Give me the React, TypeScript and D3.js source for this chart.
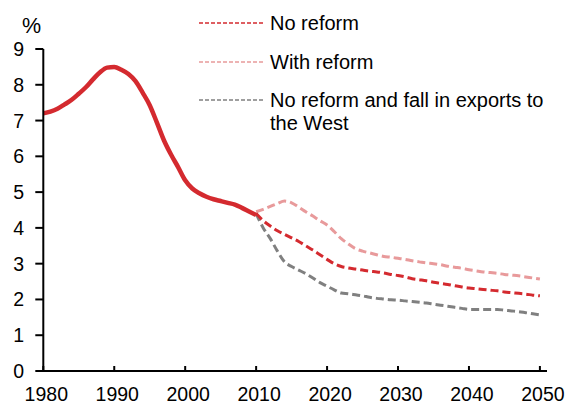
import React from "react";
import * as d3 from "d3";

const histYears = d3.range(1980, 2011);
const histValues = [
  7.2, 7.25, 7.33, 7.45, 7.58, 7.75, 7.93, 8.15, 8.35, 8.48,
  8.5, 8.42, 8.3, 8.1, 7.78, 7.43, 6.95, 6.45, 6.05, 5.7,
  5.33, 5.1, 4.97, 4.87, 4.8, 4.75, 4.7, 4.65, 4.56, 4.46, 4.36,
];

const fcYears = d3.range(2010, 2051);
const noReform = [
  4.4, 4.2, 4.05, 3.92, 3.82, 3.72, 3.62, 3.5, 3.38, 3.25,
  3.12, 3.0, 2.92, 2.88, 2.85, 2.82, 2.79, 2.77, 2.74, 2.7,
  2.67, 2.63, 2.58, 2.55, 2.52, 2.48, 2.45, 2.42, 2.38, 2.35,
  2.32, 2.3, 2.28, 2.26, 2.24, 2.21, 2.19, 2.17, 2.15, 2.12, 2.1,
];
const withReform = [
  4.45, 4.52, 4.6, 4.68, 4.75, 4.7, 4.58, 4.45, 4.33, 4.2,
  4.08, 3.9, 3.7, 3.55, 3.42, 3.35, 3.3, 3.25, 3.2, 3.18,
  3.15, 3.12, 3.08, 3.05, 3.02, 3.0, 2.97, 2.93, 2.9, 2.87,
  2.83, 2.8, 2.77, 2.75, 2.73, 2.7, 2.68, 2.66, 2.63, 2.6, 2.57,
];
const exportsFall = [
  4.4, 4.0, 3.7, 3.35, 3.05, 2.92, 2.82, 2.72, 2.6, 2.47,
  2.37, 2.27, 2.18, 2.16, 2.13, 2.1, 2.06, 2.03, 2.01, 1.99,
  1.98, 1.96, 1.94, 1.92, 1.9, 1.87, 1.84, 1.81, 1.78, 1.75,
  1.72, 1.72, 1.72, 1.72, 1.72, 1.7, 1.68, 1.66, 1.63, 1.6, 1.57,
];

const xTicks = [1980, 1990, 2000, 2010, 2020, 2030, 2040, 2050];
const yTicks = [0, 1, 2, 3, 4, 5, 6, 7, 8, 9];

const legendItems = [
  { lines: ["No reform"], color: "#d42a2f" },
  { lines: ["With reform"], color: "#e89a9b" },
  { lines: ["No reform and fall in exports to", "the West"], color: "#808080" },
];

const W = 566;
const H = 405;
const font = "'Liberation Sans', Arial, sans-serif";

export default function App() {
  const x = d3.scaleLinear().domain([1980, 2051]).range([43.3, 547]);
  const y = d3.scaleLinear().domain([0, 9]).range([371, 49]);

  const line = d3
    .line<[number, number]>()
    .x((d) => x(d[0]))
    .y((d) => y(d[1]))
    .curve(d3.curveMonotoneX);

  const hist = line(histYears.map((yr, i) => [yr, histValues[i]]))!;
  const fc = (vals: number[]) => line(fcYears.map((yr, i) => [yr, vals[i]]))!;

  const legendY = [23, 62, 100];

  return (
    <svg
      width={W}
      height={H}
      style={{ position: "absolute", left: 0, top: 0, background: "#fff" }}
      fontFamily={font}
    >
      <rect width={W} height={H} fill="#fff" />
      {/* series */}
      <path d={fc(withReform)} fill="none" stroke="#e89a9b" strokeWidth={3} strokeDasharray="8,4" />
      <path d={fc(exportsFall)} fill="none" stroke="#808080" strokeWidth={3} strokeDasharray="8,4" />
      <path d={fc(noReform)} fill="none" stroke="#d42a2f" strokeWidth={3} strokeDasharray="8,4" />
      <path d={hist} fill="none" stroke="#d42a2f" strokeWidth={4.5} strokeLinejoin="round" />

      {/* y axis */}
      <line x1={x(1980)} x2={x(1980)} y1={y(9)} y2={y(0)} stroke="#000" strokeWidth={2} />
      {yTicks.map((t) => (
        <g key={t}>
          <line x1={x(1980) - 8} x2={x(1980)} y1={y(t)} y2={y(t)} stroke="#000" strokeWidth={2} />
          <text x={24} y={y(t)} dy="0.36em" textAnchor="end" fontSize={19.5} fill="#000">
            {t}
          </text>
        </g>
      ))}
      <text x={22} y={33} fontSize={21.5} fill="#000">%</text>

      {/* x axis */}
      <line x1={x(1980) - 1} x2={x(2051)} y1={y(0)} y2={y(0)} stroke="#000" strokeWidth={2} />
      {xTicks.map((t) => (
        <g key={t}>
          <line x1={x(t)} x2={x(t)} y1={y(0)} y2={y(0) - 5} stroke="#000" strokeWidth={2} />
          <text x={x(t) + 3} y={394} dy="0.36em" textAnchor="middle" fontSize={19.5} fill="#000">
            {t}
          </text>
        </g>
      ))}

      {/* legend */}
      {legendItems.map((it, i) => (
        <g key={i}>
          <line
            x1={199}
            x2={263}
            y1={legendY[i]}
            y2={legendY[i]}
            stroke={it.color}
            strokeWidth={1.5}
            strokeDasharray="4,2"
          />
          {it.lines.map((l, j) => (
            <text
              key={j}
              x={270}
              y={legendY[i] + j * 23}
              dy="0.36em"
              fontSize={20}
              fill="#000"
            >
              {l}
            </text>
          ))}
        </g>
      ))}
    </svg>
  );
}
